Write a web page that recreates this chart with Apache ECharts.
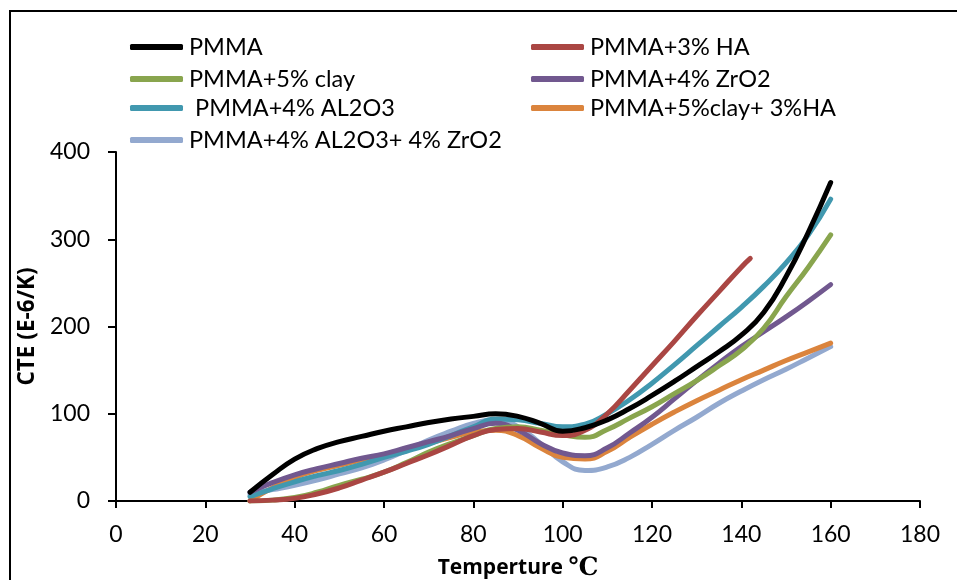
<!DOCTYPE html>
<html>
<head>
<meta charset="utf-8">
<script src="https://cdn.jsdelivr.net/npm/echarts@6/dist/echarts.min.js"></script>
<style>
  html, body { margin: 0; padding: 0; background: #fff; }
  #chart { width: 957px; height: 580px; }
</style>
</head>
<body>
<div id="chart"></div>
<script>
// temperature (deg C) sample points
const temps = [30, 35, 40, 45, 50, 55, 60, 65, 70, 75, 80, 85, 90, 95, 100, 105, 110, 115, 120, 125, 130, 135, 140, 145, 150, 155, 160];
const tempsHA = [30, 35, 40, 45, 50, 55, 60, 65, 70, 75, 80, 85, 90, 95, 100, 105, 110, 115, 120, 125, 130, 135, 140, 142];

// CTE (E-6/K) values
const pmma       = [10, 30, 48, 60, 68, 74, 80, 85, 90, 94, 97, 100, 97, 89, 80, 84, 93, 106, 121, 137, 154, 171, 190, 216, 257, 308, 365];
const pmmaHA     = [0, 1, 3, 8, 15, 24, 33, 43, 53, 64, 75, 82, 83, 79, 75, 81, 100, 127, 155, 183, 212, 240, 268, 278];
const pmmaClay   = [0, 1, 4, 10, 18, 25, 33, 44, 56, 66, 75, 83, 85, 81, 76, 73, 82, 95, 108, 123, 138, 155, 173, 198, 234, 268, 305];
const pmmaZrO2   = [10, 21, 30, 37, 43, 49, 54, 61, 68, 75, 83, 89, 81, 66, 55, 52, 61, 78, 96, 117, 138, 158, 177, 194, 211, 229, 248];
const pmmaAl2O3  = [5, 14, 22, 29, 35, 42, 50, 57, 65, 75, 85, 94, 93, 89, 85, 88, 100, 116, 135, 156, 178, 200, 222, 246, 273, 305, 346];
const pmmaClayHA = [0, 15, 27, 35, 41, 47, 52, 59, 66, 73, 79, 81, 75, 61, 50, 48, 57, 73, 88, 102, 115, 127, 139, 150, 161, 171, 181];
const pmmaAlZr   = [8, 13, 18, 24, 31, 38, 47, 58, 70, 80, 89, 93, 85, 66, 45, 35, 39, 50, 65, 81, 96, 112, 126, 139, 151, 164, 177];

const xTicks = [0, 20, 40, 60, 80, 100, 120, 140, 160, 180];
const yTicks = [0, 100, 200, 300, 400];

const names = ['PMMA', 'PMMA+3% HA', 'PMMA+5% clay', 'PMMA+4% ZrO2', ' PMMA+4% AL2O3', 'PMMA+5%clay+ 3%HA', 'PMMA+4% AL2O3+ 4% ZrO2'];
const colors = ['#000000', '#AA4643', '#89A54E', '#71588F', '#4198AF', '#DB843D', '#93A9CF'];

const pairs = (xs, ys) => xs.map((x, i) => [x, ys[i]]);
const seriesData = [
  pairs(temps, pmma),
  pairs(tempsHA, pmmaHA),
  pairs(temps, pmmaClay),
  pairs(temps, pmmaZrO2),
  pairs(temps, pmmaAl2O3),
  pairs(temps, pmmaClayHA),
  pairs(temps, pmmaAlZr)
];

// legend slots: [left, top]
const legendPos = [[130, 35], [531, 35], [130, 67], [531, 67], [130, 96], [531, 96], [130, 128]];

const chart = echarts.init(document.getElementById('chart'));
chart.setOption({
  animation: false,
  backgroundColor: '#fff',
  textStyle: { fontFamily: 'Lato' },
  legend: names.map((n, i) => ({
    data: [n],
    left: legendPos[i][0],
    top: legendPos[i][1],
    icon: 'roundRect',
    itemWidth: 53,
    itemHeight: 6,
    itemGap: 0,
    padding: 0,
    textStyle: { fontFamily: 'Lato', fontSize: 23.5, color: '#000', padding: [0, 0, 0, 1] }
  })),
  grid: { left: 116, right: 37, top: 152, bottom: 79, outerBoundsMode: 'none' },
  xAxis: {
    type: 'value',
    min: 0, max: 180, interval: 20,
    name: 'Temperture {c|℃}',
    nameLocation: 'middle',
    nameGap: 55,
    nameTextStyle: {
      fontFamily: 'Open Sans', fontWeight: 'bold', fontSize: 21, color: '#000',
      rich: { c: { fontFamily: 'DejaVu Serif', fontSize: 25, color: '#000' } }
    },
    axisLine: { lineStyle: { color: '#000', width: 2 } },
    axisTick: { show: true, length: 7, lineStyle: { color: '#000', width: 2 } },
    axisLabel: {
      fontSize: 23, color: '#000', margin: 22,
      formatter: v => xTicks.includes(v) ? String(v) : ''
    },
    splitLine: { show: false }
  },
  yAxis: {
    type: 'value',
    min: 0, max: 400, interval: 100,
    name: 'CTE (E-6/K)',
    nameLocation: 'middle',
    nameGap: 73,
    nameTextStyle: { fontFamily: 'Open Sans', fontWeight: 'bold', fontSize: 22.5, color: '#000' },
    axisLine: { show: true, lineStyle: { color: '#000', width: 2 } },
    axisTick: { show: true, length: 8, lineStyle: { color: '#000', width: 2 } },
    axisLabel: {
      fontSize: 23, color: '#000', margin: 26,
      formatter: v => yTicks.includes(v) ? String(v) : ''
    },
    splitLine: { show: false }
  },
  graphic: [
    { type: 'polyline', shape: { points: [[10, 580], [10, 11], [957, 11]] }, style: { stroke: '#000', lineWidth: 2, fill: null } }
  ],
  series: names.map((n, i) => ({
    name: n,
    type: 'line',
    data: seriesData[i],
    smooth: 0.5,
    showSymbol: false,
    symbol: 'none',
    color: colors[i],
    lineStyle: { width: 5, color: colors[i], cap: 'round', join: 'round' },
    z: 10 - i
  }))
});
</script>
</body>
</html>
